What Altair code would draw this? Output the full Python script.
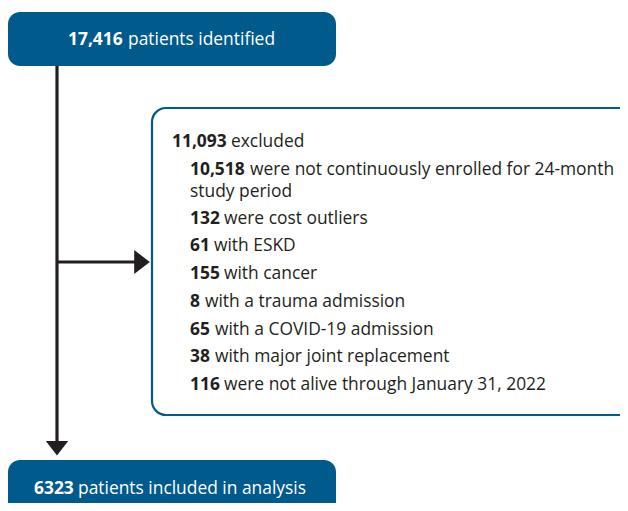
import altair as alt
import pandas as pd

# ---- content (numbers + text) ----
top_count = "17,416"
top_label = "patients identified"
excl_count = "11,093"
excl_label = "excluded"
reason_counts = ["10,518", "", "132", "61", "155", "8", "65", "38", "116"]
reason_labels = [
    "were not continuously enrolled for 24-month",
    "study period",
    "were cost outliers",
    "with ESKD",
    "with cancer",
    "with a trauma admission",
    "with a COVID-19 admission",
    "with major joint replacement",
    "were not alive through January 31, 2022",
]
final_count = "6323"
final_label = "patients included in analysis"

# ---- layout (pixel space of the figure) ----
W, H = 612, 495
BLUE = "#005a8c"
DARK = "#231f20"
FONT = "Open Sans"
FS = 17.4

xs = alt.Scale(domain=[8, 620], nice=False, zero=False)
ys = alt.Scale(domain=[503, 8], nice=False, zero=False)


def X(f="x"):
    return alt.X(f"{f}:Q", scale=xs, axis=None)


def Y(f="y"):
    return alt.Y(f"{f}:Q", scale=ys, axis=None)


boxes = pd.DataFrame({
    "x": [8, 152, 8], "x2": [336, 660, 336],
    "y": [12, 108, 460], "y2": [66, 415, 530],
    "kind": ["blue", "white", "blue"],
})
blue_boxes = alt.Chart(boxes[boxes.kind == "blue"]).mark_rect(
    cornerRadius=12, color=BLUE
).encode(x=X(), x2="x2", y=Y(), y2="y2")
white_box = alt.Chart(boxes[boxes.kind == "white"]).mark_rect(
    cornerRadius=14, fill="white", stroke=BLUE, strokeWidth=2.2
).encode(x=X(), x2="x2", y=Y(), y2="y2")

lines = pd.DataFrame({
    "x": [57, 57], "x2": [57, 138],
    "y": [66, 262], "y2": [444, 262],
})
rules = alt.Chart(lines).mark_rule(color=DARK, strokeWidth=3.2).encode(
    x=X(), x2="x2", y=Y(), y2="y2"
)

down_head = alt.Chart(pd.DataFrame({"x": [57], "y": [448]})).mark_point(
    shape="M-1,-0.62L1,-0.62L0,0.68Z", size=500, filled=True, color=DARK, opacity=1
).encode(x=X(), y=Y())
right_head = alt.Chart(pd.DataFrame({"x": [142], "y": [262]})).mark_point(
    shape="M-0.65,-1L0.65,0L-0.65,1Z", size=576, filled=True, color=DARK, opacity=1
).encode(x=X(), y=Y())

# text rows
row_y = [170, 192, 219, 246, 274, 302, 330, 357, 385]
num_x = [190] * 9
lab_x = [250, 190, 224, 214, 224, 205, 215, 215, 224]

bold_df = pd.DataFrame({
    "t": [top_count, excl_count] + reason_counts + [final_count],
    "x": [68, 172] + num_x + [34],
    "y": [40, 142] + row_y + [489],
    "c": ["w", "d"] + ["d"] * 9 + ["w"],
})
reg_df = pd.DataFrame({
    "t": [top_label, excl_label] + reason_labels + [final_label],
    "x": [128, 231] + lab_x + [78],
    "y": [40, 142] + row_y + [489],
    "c": ["w", "d"] + ["d"] * 9 + ["w"],
})
cscale = alt.Scale(domain=["w", "d"], range=["white", DARK])

bold_text = alt.Chart(bold_df).mark_text(
    align="left", baseline="middle", font=FONT, fontSize=FS, fontWeight="bold"
).encode(x=X(), y=Y(), text="t:N", color=alt.Color("c:N", scale=cscale, legend=None))
reg_text = alt.Chart(reg_df).mark_text(
    align="left", baseline="middle", font=FONT, fontSize=FS
).encode(x=X(), y=Y(), text="t:N", color=alt.Color("c:N", scale=cscale, legend=None))

chart = alt.layer(
    rules, down_head, right_head, blue_boxes, white_box, bold_text, reg_text
).properties(
    width=W, height=H, autosize=alt.AutoSizeParams(type="none"), padding=0
).configure_view(stroke=None)

chart.save("out.html", embed_options={"renderer": "svg", "actions": False})
